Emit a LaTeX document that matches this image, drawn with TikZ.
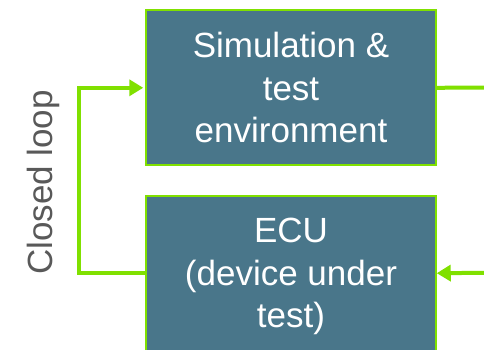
\documentclass[tikz,border=0pt]{standalone}
\usepackage{fontspec}
\setmainfont{Liberation Sans}
\usetikzlibrary{arrows.meta}
\definecolor{boxfill}{RGB}{73,118,138}
\definecolor{loopgreen}{RGB}{128,224,0}
\definecolor{labelgray}{RGB}{89,89,89}
\tikzset{
  block/.style={draw=loopgreen, fill=boxfill, line width=2pt,
    minimum width=289.5pt, minimum height=155pt, inner sep=0pt,
    align=center, text=white, font=\fontsize{35}{42.5}\selectfont},
  flow/.style={draw=loopgreen, line width=4pt},
  tip/.style={-{Triangle[length=14pt,width=16pt]}}
}
\begin{document}
\begin{tikzpicture}[x=1pt,y=-1pt]
  \useasboundingbox (0,0) rectangle (484,350);
  \clip (0,0) rectangle (484,350);

  % the two blocks of the loop
  \node[block] (sim) at (291,87.8) {Simulation \&\\test\\environment};
  \node[block, text depth=0pt] (ecu) at (291,273.2) {ECU\\(device under\\test)};

  % loose ends at the right edge
  \coordinate (simout) at (486,87.5);
  \coordinate (ecuin) at (486,272.8);
  \coordinate (lx) at (78.5,180);

  % connectors
  \draw[flow] (sim.east) -- (simout);
  \draw[flow, tip] (ecuin) -- (ecu.east);
  \draw[flow, tip] (ecu.west) -| (lx) |- ([xshift=-2pt]sim.west);

  % side label
  \node[rotate=90, anchor=base, text=labelgray,
        font=\fontsize{35}{42}\selectfont] (looplabel) at (52.7,182.5) {Closed loop};
\end{tikzpicture}
\end{document}
